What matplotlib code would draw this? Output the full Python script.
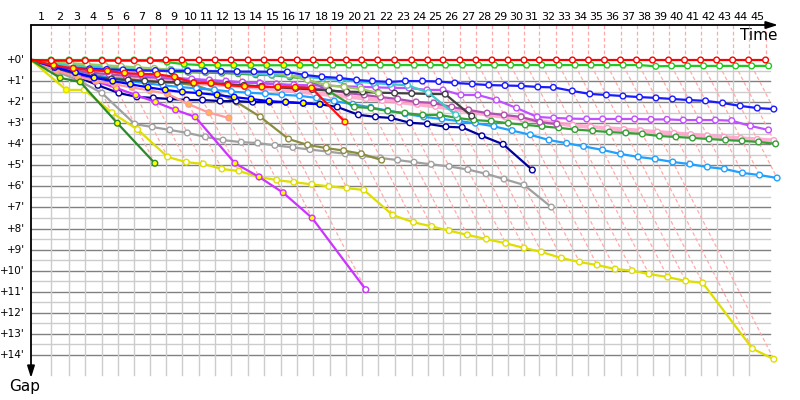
import numpy as np
import matplotlib
matplotlib.use("Agg")
import matplotlib.pyplot as plt

# ---------------- data ----------------
# leader lap durations (seconds), laps 1..45
leader_lap_s = [111, 100, 89, 94, 89, 89, 89, 89, 89, 95,
                89, 89, 94, 89, 95, 89, 89, 95, 89, 85,
                89, 94, 95, 89, 85, 94, 89, 89, 89, 89,
                85, 95, 89, 89, 89, 89, 89, 89, 89, 89,
                89, 89, 89, 89, 94]
lap_labels = [str(i) for i in range(1, 46)]
gap_ticks = [0, 1, 2, 3, 4, 5, 6, 7, 8, 9, 10, 11, 12, 13, 14]
gap_tick_labels = ["+%d'" % g for g in gap_ticks]

# gaps (minutes) to the leader at the end of each completed lap (lap 1, 2, ...)
gap_red = [0.03, 0.03, 0.03, 0.03, 0.03, 0.03, 0.03, 0, 0, 0,
           0, 0, 0, 0, 0, 0, 0, 0, 0, 0,
           0, 0, 0, 0, 0, 0, 0, 0, 0, 0,
           0, 0, 0, 0, 0, 0, 0, 0, 0, 0,
           0, 0, 0, 0, 0]
gap_green = [0, 0, 0, 0, 0, 0, 0, 0.1, 0.2, 0.24,
             0.25, 0.25, 0.25, 0.25, 0.25, 0.25, 0.24, 0.24, 0.24, 0.24,
             0.24, 0.24, 0.24, 0.24, 0.24, 0.24, 0.24, 0.24, 0.24, 0.24,
             0.24, 0.24, 0.24, 0.24, 0.24, 0.24, 0.24, 0.3, 0.28, 0.28,
             0.28, 0.28, 0.28, 0.28, 0.28]
gap_blue = [0.3, 0.4, 0.42, 0.45, 0.47, 0.5, 0.5, 0.52, 0.52, 0.53,
            0.54, 0.55, 0.55, 0.56, 0.57, 0.71, 0.8, 0.85, 0.95, 1.0,
            1.04, 1.0, 1.0, 1.02, 1.09, 1.14, 1.19, 1.21, 1.23, 1.28,
            1.3, 1.47, 1.61, 1.66, 1.71, 1.76, 1.8, 1.85, 1.9, 1.94,
            2.04, 2.18, 2.28, 2.33]
gap_blue2 = [0.35, 0.6, 0.85, 1.0, 1.15, 1.3, 1.42, 1.52, 1.57, 1.66,
             1.76, 1.85, 1.95, 2.0, 2.05, 2.1]
gap_navy = [0.45, 0.8, 1.2, 1.57, 1.75, 1.8, 1.85, 1.9, 1.9, 1.95,
            1.95, 2.0, 2.0, 2.0, 2.05, 2.1, 2.23, 2.6, 2.7, 2.75,
            2.98, 3.03, 3.17, 3.2, 3.6, 4.0, 5.22]
gap_lightblue = [0.3, 0.5, 0.7, 0.85, 1.0, 1.1, 1.2, 1.28, 1.35, 1.42,
                 1.5, 1.55, 1.6, 1.65, 1.7, 1.8, 1.95, 2.1, 2.25, 2.4,
                 2.55, 2.7, 2.8, 2.9, 3.0, 3.15, 3.35, 3.55, 3.8, 3.95,
                 4.1, 4.27, 4.46, 4.6, 4.7, 4.84, 4.94, 5.08, 5.17, 5.36,
                 5.46, 5.6]
gap_dkgreen = [0.15, 0.25, 0.3, 0.35, 0.4, 0.45, 0.5, 0.55, 0.58, 0.6,
               0.62, 0.65, 0.7, 0.72, 0.8, 0.9, 1.5, 2.23, 2.28, 2.42,
               2.52, 2.61, 2.61, 2.75, 2.85, 2.9, 3.0, 3.08, 3.15, 3.22,
               3.3, 3.36, 3.42, 3.46, 3.51, 3.61, 3.65, 3.7, 3.75, 3.8,
               3.84, 3.89, 3.98]
gap_pink = [0.3, 0.5, 0.65, 0.75, 0.85, 0.95, 1.0, 1.05, 1.1, 1.15,
            1.2, 1.27, 1.33, 1.42, 1.5, 1.58, 1.66, 1.75, 1.83, 1.92,
            2.0, 2.1, 2.2, 2.32, 2.45, 2.6, 2.7, 2.8, 2.9, 3.0,
            3.1, 3.18, 3.24, 3.3, 3.36, 3.42, 3.48, 3.54, 3.6, 3.66,
            3.72, 3.77, 3.82]
gap_mauve = [0.3, 0.5, 0.6, 0.68, 0.75, 0.8, 0.85, 0.9, 0.95, 1.0,
             1.03, 1.06, 1.09, 1.14, 1.23, 1.33, 1.42, 1.57, 1.66, 1.76,
             1.85, 1.99, 2.04, 2.23, 2.37, 2.52, 2.61, 2.7, 2.95, 3.04]
gap_violet = [0.05, 0.3, 0.45, 0.55, 0.65, 0.72, 0.8, 0.85, 0.9, 0.95,
              1.0, 1.05, 1.1, 1.15, 1.18, 1.2, 1.22, 1.25, 1.27, 1.3,
              1.32, 1.33, 1.42, 1.42, 1.66, 1.66, 1.9, 2.28, 2.7, 2.75,
              2.78, 2.8, 2.8, 2.8, 2.8, 2.82, 2.82, 2.85, 2.85, 2.85,
              2.88, 3.13, 3.32]
gap_violet2 = [0.3, 0.7, 1.0, 1.33, 1.66, 2.0, 2.37, 2.7, 4.9, 5.55,
               6.3, 7.5, 10.9]
gap_black = [0.45, 0.65, 0.8, 0.9, 0.95, 1.0, 1.04, 1.05, 1.08, 1.1,
             1.15, 1.2, 1.25, 1.3, 1.35, 1.4, 1.45, 1.5, 1.52, 1.55,
             1.57, 1.59, 1.61, 1.62, 2.66]
gap_turq = [0.2, 0.25, 0.3, 0.33, 0.36, 0.4, 0.42, 0.45, 0.48, 0.5,
            0.55, 0.6, 0.65, 0.7, 0.75, 0.8, 0.88, 0.95, 1.02, 1.1,
            1.15, 1.2, 1.55, 2.6]
gap_ygreen = [0.1, 0.15, 0.2, 0.25, 0.3, 0.35, 0.4, 0.47, 0.55, 0.57,
              0.57, 0.57, 0.57, 0.57, 0.71, 0.95, 1.19, 1.28, 1.38, 1.57]
gap_red2 = [0.25, 0.4, 0.48, 0.52, 0.62, 0.66, 0.68, 0.8, 1.09, 1.1,
            1.2, 1.25, 1.28, 1.28, 1.3, 1.33, 2.94]
gap_olive = [0.4, 0.6, 0.75, 0.85, 0.9, 1.0, 1.05, 1.1, 1.2, 1.5,
             2.0, 2.7, 3.75, 4.03, 4.18, 4.3, 4.45, 4.75]
gap_salmon = [0.5, 0.8, 1.0, 1.15, 1.3, 1.45, 1.6, 2.1, 2.5, 2.75]
gap_yellow = [1.42, 1.42, 2.5, 3.3, 4.6, 4.85, 4.93, 5.17, 5.27, 5.55,
              5.7, 5.8, 5.9, 6.0, 6.08, 6.17, 7.36, 7.7, 7.9, 8.1,
              8.3, 8.5, 8.7, 8.92, 9.11, 9.4, 9.59, 9.73, 9.92, 10.0,
              10.16, 10.3, 10.49, 10.58, 13.7, 14.2]
gap_gray = [0.55, 1.0, 1.57, 3.04, 3.18, 3.32, 3.46, 3.65, 3.8, 3.9,
            3.94, 4.05, 4.15, 4.25, 4.35, 4.45, 4.55, 4.65, 4.75, 4.85,
            4.95, 5.05, 5.2, 5.4, 5.65, 5.93, 6.98]
gap_dkgreen2 = [0.85, 1.04, 3.0, 4.9]

# ---------------- styles (drawing order: first = bottom) ----------------
series = [
    # name, gaps, line colour, line width, yellow-filled laps (first, last)
    ("pink", gap_pink, "#ffa0c8", 3.0, None),
    ("gray", gap_gray, "#a0a0a0", 1.6, None),
    ("olive", gap_olive, "#8c8c40", 1.6, None),
    ("yellow", gap_yellow, "#dede00", 1.6, (1, 1)),
    ("lightblue", gap_lightblue, "#20a0ff", 1.6, None),
    ("navy", gap_navy, "#0000a0", 1.6, None),
    ("dkgreen", gap_dkgreen, "#35a035", 1.6, None),
    ("mauve", gap_mauve, "#b050b0", 1.6, None),
    ("violet", gap_violet, "#c050ff", 1.6, None),
    ("violet2", gap_violet2, "#cc33ff", 1.6, (4, 12)),
    ("black", gap_black, "#404040", 1.6, None),
    ("turq", gap_turq, "#40c8c8", 1.6, None),
    ("ygreen", gap_ygreen, "#a0c860", 1.6, None),
    ("salmon", gap_salmon, "#ff9a9a", 1.6, (1, 10)),
    ("blue2", gap_blue2, "#0000ff", 1.6, (1, 16)),
    ("blue", gap_blue, "#1a1aff", 1.6, None),
    ("red2", gap_red2, "#ff1010", 1.6, (1, 17)),
    ("dkgreen2", gap_dkgreen2, "#2a8a2a", 1.6, (1, 4)),
    ("green", gap_green, "#22c822", 1.6, (1, 16)),
    ("red", gap_red, "#ff0000", 1.6, None),
]

# ---------------- figure ----------------
PX_PER_MIN_X = 10.8
X0_PX, X1_PX = 31, 790
TOP_PX, BOT_PX, ZERO_PX, PX_PER_MIN_Y = 25, 380, 60, 21.07
gap_top = -(ZERO_PX - TOP_PX) / PX_PER_MIN_Y
gap_bot = (BOT_PX - ZERO_PX) / PX_PER_MIN_Y

fig = plt.figure(figsize=(8, 4), dpi=100)
fig.patch.set_facecolor("white")
ax = fig.add_axes([X0_PX / 800, 1 - BOT_PX / 400, (X1_PX - X0_PX) / 800,
                   (BOT_PX - TOP_PX) / 400])
ax.set_xlim(0, (X1_PX - X0_PX) / PX_PER_MIN_X)
ax.set_ylim(gap_bot, gap_top)
ax.set_axis_off()

leader_t = np.concatenate([[0.0], np.cumsum(leader_lap_s) / 60.0])
n_laps = len(leader_lap_s)
grid_right = (770 - X0_PX) / PX_PER_MIN_X
grid_bottom = (375 - ZERO_PX) / PX_PER_MIN_Y

# horizontal grid
for g in np.arange(0.5, 14.01, 0.5):
    major = abs(g - round(g)) < 1e-9
    ax.plot([0, grid_right], [g, g], color="#808080" if major else "#cccccc",
            lw=1.0, zorder=1)
# vertical grid at leader lap times
for k in range(1, n_laps):
    ax.plot([leader_t[k], leader_t[k]], [0, grid_bottom], color="#cccccc",
            lw=1.0, zorder=1)

# lap lines: vertical above leader, diagonal iso-lap lines below
all_gaps = [s[1] for s in series]
for k in range(1, n_laps + 1):
    t = leader_t[k]
    ax.plot([t, t], [gap_top, 0], color="#ffaaaa", lw=0.9,
            ls=(0, (3, 2)), zorder=2)
    gm = max(g[k - 1] for g in all_gaps if len(g) >= k)
    ax.plot([t, t + gm], [0, gm], color="#ffaaaa", lw=0.9,
            ls=(0, (3, 2)), zorder=2)

# series
for i, (name, gaps, col, lw, fill) in enumerate(series):
    n = len(gaps)
    g = np.array(gaps, dtype=float)
    x = leader_t[1:n + 1] + g
    xs = np.concatenate([[0.0], x])
    ys = np.concatenate([[0.0], g])
    z = 10 + 2 * i
    ax.plot(xs, ys, color=col, lw=lw, solid_joinstyle="round", zorder=z,
            alpha=0.85 if name == "pink" else 1.0)
    faces = []
    for lap in range(1, n + 1):
        if fill is not None and fill[0] <= lap <= fill[1]:
            faces.append("#ffb84d" if name == "salmon" else "#ffff00")
        else:
            faces.append("white")
    ax.scatter(x, g, s=17, facecolors=faces, edgecolors=col, linewidths=1.0,
               zorder=z + 1)

# axes with arrows
ax.annotate("", xy=((778 - X0_PX) / PX_PER_MIN_X, gap_top), xytext=(0, gap_top),
            arrowprops=dict(arrowstyle="-|>,head_length=0.7,head_width=0.22",
                            lw=1.3, color="black", shrinkA=0, shrinkB=0),
            annotation_clip=False, zorder=50)
ax.annotate("", xy=(0, (378 - ZERO_PX) / PX_PER_MIN_Y), xytext=(0, gap_top),
            arrowprops=dict(arrowstyle="-|>,head_length=0.7,head_width=0.22",
                            lw=1.3, color="black", shrinkA=0, shrinkB=0),
            annotation_clip=False, zorder=50)

# lap labels
trans = ax.get_xaxis_transform()
for k in range(1, n_laps + 1):
    xm = 0.5 * (leader_t[k - 1] + leader_t[k])
    ax.text(xm, 1 + 8 / (BOT_PX - TOP_PX), lap_labels[k - 1], transform=trans,
            ha="center", va="center", fontsize=8, color="black", clip_on=False)

# gap tick labels
for g, lab in zip(gap_ticks, gap_tick_labels):
    ax.text(-6 / PX_PER_MIN_X, g, lab, ha="right", va="center", fontsize=7.5,
            color="black", clip_on=False)

fig.text(778 / 800, 1 - 36 / 400, "Time", ha="right", va="center", fontsize=11)
fig.text(25 / 800, 1 - 386 / 400, "Gap", ha="center", va="center", fontsize=11)

fig.savefig("out.png", dpi=100, facecolor="white")
